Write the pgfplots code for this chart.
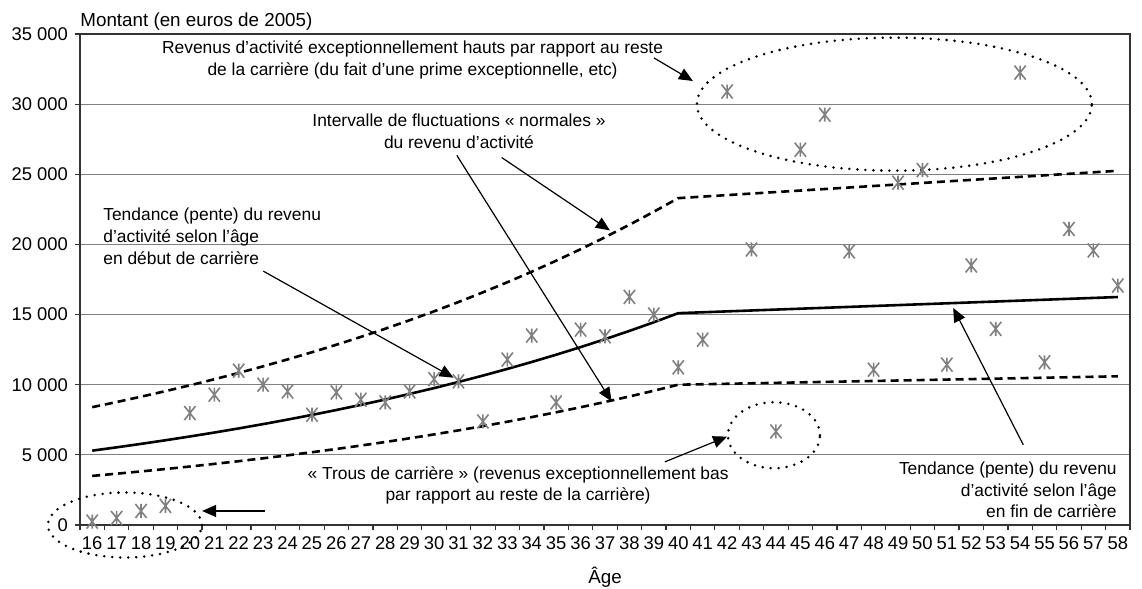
\documentclass[border=0pt]{standalone}
\usepackage{fontspec}
\setmainfont{Liberation Sans}
\usepackage{pgfplots}
\pgfplotsset{compat=1.18}
\usetikzlibrary{arrows.meta,calc}

% six-armed star: vertical bar plus two steep diagonals
\pgfdeclareplotmark{xstar}{%
  \pgfpathmoveto{\pgfqpoint{0pt}{-\pgfplotmarksize}}%
  \pgfpathlineto{\pgfqpoint{0pt}{\pgfplotmarksize}}%
  \pgfpathmoveto{\pgfqpoint{-0.8\pgfplotmarksize}{-\pgfplotmarksize}}%
  \pgfpathlineto{\pgfqpoint{0.8\pgfplotmarksize}{\pgfplotmarksize}}%
  \pgfpathmoveto{\pgfqpoint{-0.8\pgfplotmarksize}{\pgfplotmarksize}}%
  \pgfpathlineto{\pgfqpoint{0.8\pgfplotmarksize}{-\pgfplotmarksize}}%
  \pgfusepathqstroke}

\tikzset{
  note/.style={font=\fontsize{8.7}{10.85}\selectfont, inner sep=0pt},
  pointer/.style={-{Triangle[length=7pt,width=6pt]}, line width=0.6pt, black},
  dots/.style={black, line width=1.4pt, line cap=round, dash pattern=on 0pt off 4pt},
}

\begin{document}
\begin{tikzpicture}
\begin{axis}[
  name=ax,
  scale only axis, width=525pt, height=245.5pt,
  xmin=15.5, xmax=58.5, ymin=0, ymax=35000,
  xtick={16,...,58},
  minor xtick={15.5,16.5,...,58.5},
  ytick={0,5000,...,35000},
  tick align=outside, tick pos=left,
  major tick length=2.5pt, minor tick length=2.5pt,
  major x tick style={draw=none},
  tick style={black!80, line width=0.6pt},
  ymajorgrids, grid style={gray, line width=0.6pt},
  axis line style={black!80, line width=0.7pt},
  ticklabel style={font=\fontsize{9.2}{11}\selectfont},
  /pgf/number format/assume math mode=true,
  /pgf/number format/1000 sep={\ },
  scaled y ticks=false,
  clip=false,
]
% trend in early career, then flat slope
\addplot[black, line width=1.3pt] coordinates {
  (16,5300)(17,5536)(18,5783)(19,6041)(20,6310)(21,6591)(22,6885)(23,7192)
  (24,7513)(25,7848)(26,8198)(27,8563)(28,8945)(29,9344)(30,9760)(31,10196)
  (32,10650)(33,11125)(34,11621)(35,12139)(36,12680)(37,13245)(38,13836)
  (39,14453)(40,15100)(58,16250)};
% upper bound of normal fluctuations
\addplot[black, line width=1.3pt, dash pattern=on 4pt off 2.5pt] coordinates {
  (16,8400)(17,8765)(18,9146)(19,9543)(20,9957)(21,10390)(22,10841)(23,11312)
  (24,11803)(25,12315)(26,12850)(27,13408)(28,13991)(29,14598)(30,15232)
  (31,15894)(32,16584)(33,17304)(34,18056)(35,18840)(36,19658)(37,20512)
  (38,21402)(39,22332)(40,23300)(58,25250)};
% lower bound
\addplot[black, line width=1.3pt, dash pattern=on 4pt off 2.5pt] coordinates {
  (16,3500)(17,3657)(18,3820)(19,3991)(20,4169)(21,4356)(22,4550)(23,4754)
  (24,4966)(25,5188)(26,5420)(27,5663)(28,5916)(29,6181)(30,6457)(31,6746)
  (32,7047)(33,7362)(34,7692)(35,8036)(36,8395)(37,8770)(38,9162)(39,9572)
  (40,10000)(58,10600)};
% observed earnings
\addplot[only marks, mark=xstar, mark size=3.5pt, color=gray,
  mark options={line width=0.8pt}] coordinates {
  (16,240)(17,500)(18,1000)(19,1360)(20,7980)(21,9290)(22,11000)(23,10000)
  (24,9520)(25,7860)(26,9450)(27,8930)(28,8740)(29,9520)(30,10400)(31,10240)
  (32,7380)(33,11790)(34,13500)(35,8740)(36,13930)(37,13450)(38,16260)
  (39,15000)(40,11240)(41,13210)(42,30900)(43,19640)(44,6670)(45,26750)
  (46,29250)(47,19500)(48,11070)(49,24400)(50,25300)(51,11430)(52,18500)
  (53,13980)(54,32250)(55,11600)(56,21100)(57,19570)(58,17070)};

\node[note, align=center] at (axis cs:29.12,33143)
  {Revenus d’activité exceptionnellement hauts par rapport au reste\\
   de la carrière (du fait d’une prime exceptionnelle, etc)};
\draw[pointer] (axis cs:39.0,33300) -- (axis cs:40.6,31650);
\draw[dots] (axis cs:48.85,30000) ellipse [x radius=98.75pt, y radius=33.25pt];

\node[note, align=center] at (axis cs:31.02,28057)
  {Intervalle de fluctuations «~normales~»\\du revenu d’activité};
\draw[pointer] (axis cs:32.77,26193) -- (axis cs:37.2,21000);
\draw[pointer] (axis cs:30.93,26357) -- (axis cs:37.27,8807);

\node[note, align=left, anchor=west] at (axis cs:16.44,20593)
  {Tendance (pente) du revenu\\d’activité selon l’âge\\en début de carrière};
\draw[pointer] (axis cs:23.01,18093) -- (axis cs:30.8,10500);

\node[note, align=center] at (axis cs:33.44,2821)
  {«~Trous de carrière~» (revenus exceptionnellement bas\\
   par rapport au reste de la carrière)};
\draw[pointer] (axis cs:39.45,4500) -- (axis cs:42.0,6300);
\draw[dots] (axis cs:43.92,6400) ellipse [x radius=23pt, y radius=16.5pt];

\draw[dots] (axis cs:17.34,0) ellipse [x radius=38.5pt, y radius=16.25pt];
\draw[pointer] (axis cs:23.08,1000) -- (axis cs:20.5,1000);

\node[note, align=right, anchor=east] at (axis cs:57.97,2500)
  {Tendance (pente) du revenu\\d’activité selon l’âge\\en fin de carrière};
\draw[pointer] (axis cs:54.13,5714) -- (axis cs:51.26,15476);

\node[anchor=base west, inner sep=0pt, font=\fontsize{9.4}{11}\selectfont]
  at ([yshift=3.5pt]rel axis cs:0,1) {Montant (en euros de 2005)};
\node[anchor=base, inner sep=0pt, font=\fontsize{9.4}{11}\selectfont]
  at ([yshift=-29pt]rel axis cs:0.5,0) {Âge};
\end{axis}
\pgfresetboundingbox
\path[use as bounding box] ($(ax.south west)+(-40pt,-31.5pt)$) rectangle ($(ax.north east)+(6pt,17pt)$);
\end{tikzpicture}
\end{document}
